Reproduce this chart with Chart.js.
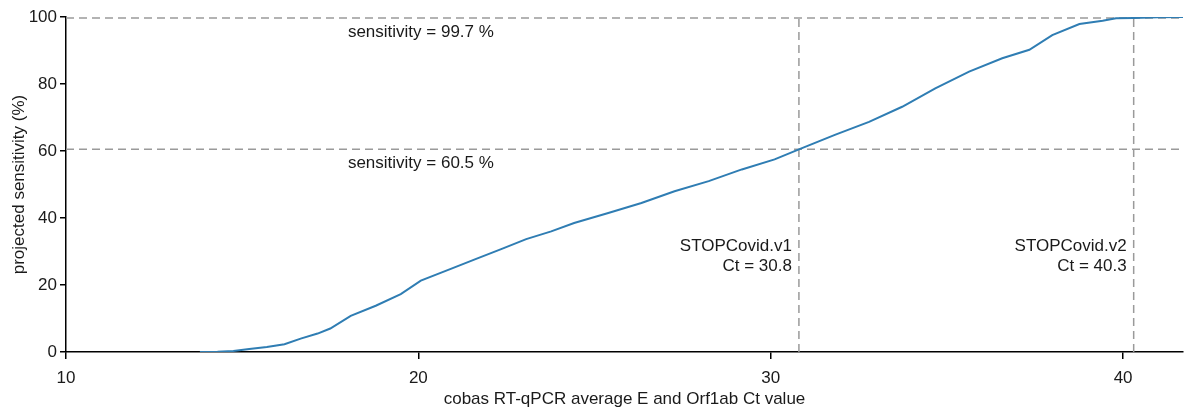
<!DOCTYPE html>
<html>
<head>
<meta charset="utf-8">
<script src="https://cdn.jsdelivr.net/npm/chart.js@4.4.1/dist/chart.umd.min.js"></script>
<style>
    html, body { margin: 0; padding: 0; background: #fff; }
    #wrap { width: 1185px; height: 410px; }
</style>
</head>
<body>
<div id="wrap"><canvas id="sensChart"></canvas></div>
<script>
// =====================================
// Data
// =====================================

const ctValues = [13.8, 14.3, 14.75, 15.2, 15.7, 16.2, 16.66, 17.14, 17.5, 18.08, 18.79, 19.5, 20.07, 20.92, 21.64, 22.35, 23.06, 23.77, 24.42, 25.39, 26.33, 27.27, 28.24, 29.18, 30.11, 30.8, 31.82, 32.79, 33.73, 34.67, 35.63, 36.57, 37.34, 37.99, 38.76, 39.42, 39.8, 40.3, 41.0, 41.7];

const sensitivity = [0, 0.1, 0.3, 0.9, 1.5, 2.3, 4.0, 5.5, 7.0, 10.8, 13.8, 17.3, 21.3, 24.8, 27.8, 30.7, 33.7, 36.0, 38.5, 41.5, 44.5, 48.0, 51.0, 54.5, 57.5, 60.5, 64.8, 68.7, 73.2, 78.7, 83.7, 87.7, 90.2, 94.6, 97.9, 98.9, 99.6, 99.7, 99.9, 100];

const xTicks = [10, 20, 30, 40];
const yTicks = [0, 20, 40, 60, 80, 100];

const xRange = [10, 41.7];

const cutoffCt = [30.8, 40.3];
const cutoffSens = [60.5, 99.7];
const cutoffNames = ["STOPCovid.v1", "STOPCovid.v2"];

// =====================================
// Helpers
// =====================================

const FONT = "'Liberation Sans', Arial, Helvetica, sans-serif";
const DASH_COLOR = "#9a9a9a";
const TEXT_COLOR = "#1a1a1a";

const curve = ctValues.map((x, i) => ({ x: x, y: sensitivity[i] }));

const refLines = [];

cutoffSens.forEach(s => {
    refLines.push({
        data: [{ x: xRange[0], y: s }, { x: xRange[1], y: s }],
        borderColor: DASH_COLOR,
        borderWidth: 1.5,
        borderDash: [8, 5],
        pointRadius: 0,
        showLine: true,
        order: 2
    });
});

cutoffCt.forEach(c => {
    refLines.push({
        data: [{ x: c, y: 0 }, { x: c, y: 100 }],
        borderColor: DASH_COLOR,
        borderWidth: 1.5,
        borderDash: [8, 5],
        pointRadius: 0,
        showLine: true,
        order: 2
    });
});

// text labels placed through the scales
const labelPlugin = {
    id: "cutoffLabels",
    afterDatasetsDraw(chart) {
        const c = chart.ctx;
        const xs = chart.scales.x;
        const ys = chart.scales.y;
        c.save();
        c.fillStyle = TEXT_COLOR;
        c.font = "17px " + FONT;
        c.textBaseline = "middle";

        // sensitivity labels
        c.textAlign = "left";
        cutoffSens.forEach(s => {
            c.fillText("sensitivity = " + s + " %", xs.getPixelForValue(18), ys.getPixelForValue(s) + 14);
        });

        // cutoff labels
        c.textAlign = "right";
        cutoffCt.forEach((ct, i) => {
            const px = xs.getPixelForValue(ct) - 7;
            c.fillText(cutoffNames[i], px, ys.getPixelForValue(31.5));
            c.fillText("Ct = " + ct, px, ys.getPixelForValue(25.5));
        });
        c.restore();
    }
};

// =====================================
// Chart
// =====================================

const ctx = document.getElementById("sensChart").getContext("2d");

new Chart(ctx, {
    type: "scatter",
    data: {
        datasets: [
            {
                label: "projected sensitivity",
                data: curve,
                borderColor: "#2f7db3",
                borderWidth: 2,
                pointRadius: 0,
                showLine: true,
                tension: 0,
                order: 1
            },
            ...refLines
        ]
    },
    options: {
        responsive: true,
        maintainAspectRatio: false,
        animation: false,
        layout: {
            padding: { top: 17, right: 2, left: 0, bottom: 0 }
        },
        plugins: {
            legend: { display: false },
            tooltip: { enabled: false }
        },
        scales: {
            x: {
                type: "linear",
                min: xRange[0],
                max: xRange[1],
                afterBuildTicks: s => { s.ticks = xTicks.map(v => ({ value: v })); },
                afterFit: s => { s.height = 58; },
                border: { display: true, color: "#000", width: 1.5 },
                grid: { display: true, drawOnChartArea: false, drawTicks: true, tickLength: 7, color: "#000", lineWidth: 1.5 },
                ticks: {
                    color: TEXT_COLOR,
                    padding: 9,
                    maxRotation: 0,
                    font: { family: FONT, size: 17 }
                },
                title: {
                    display: true,
                    text: "cobas RT-qPCR average E and Orf1ab Ct value",
                    color: TEXT_COLOR,
                    padding: { top: 0, bottom: 0 },
                    font: { family: FONT, size: 17 }
                }
            },
            y: {
                min: 0,
                max: 100,
                afterBuildTicks: s => { s.ticks = yTicks.map(v => ({ value: v })); },
                afterFit: s => { s.width = 66; },
                border: { display: true, color: "#000", width: 1.5 },
                grid: { display: true, drawOnChartArea: false, drawTicks: true, tickLength: 6, color: "#000", lineWidth: 1.5 },
                ticks: {
                    color: TEXT_COLOR,
                    padding: 3,
                    font: { family: FONT, size: 17 }
                },
                title: {
                    display: true,
                    text: "projected sensitivity (%)",
                    color: TEXT_COLOR,
                    padding: { top: 9, bottom: 2 },
                    font: { family: FONT, size: 17 }
                }
            }
        }
    },
    plugins: [labelPlugin]
});
</script>
</body>
</html>
